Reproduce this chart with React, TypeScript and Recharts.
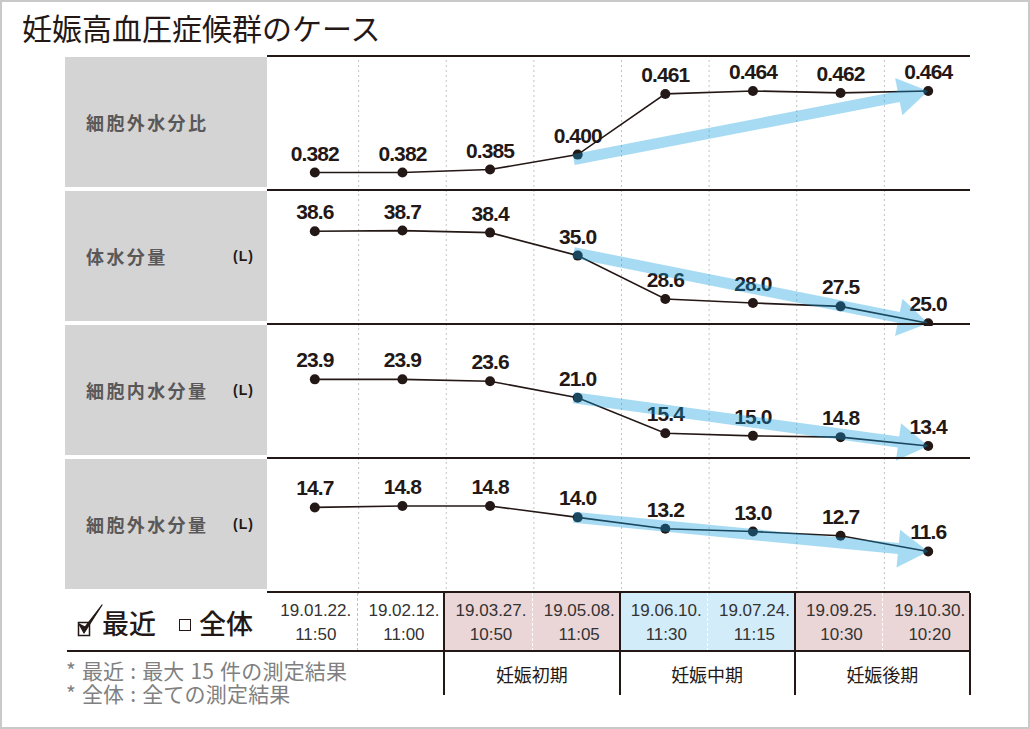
import React from 'react';
import { LineChart, Line, XAxis, YAxis, ReferenceLine, LabelList } from 'recharts';

const dates = ['19.01.22.', '19.02.12.', '19.03.27.', '19.05.08.', '19.06.10.', '19.07.24.', '19.09.25.', '19.10.30.'];
const times = ['11:50', '11:00', '10:50', '11:05', '11:30', '11:15', '10:30', '10:20'];
const phases = ['妊娠初期', '妊娠中期', '妊娠後期'];
const phaseOfDate = [-1, -1, 0, 0, 1, 1, 2, 2];

const ecwRatio = [0.382, 0.382, 0.385, 0.4, 0.461, 0.464, 0.462, 0.464];
const tbw = [38.6, 38.7, 38.4, 35.0, 28.6, 28.0, 27.5, 25.0];
const icw = [23.9, 23.9, 23.6, 21.0, 15.4, 15.0, 14.8, 13.4];
const ecw = [14.7, 14.8, 14.8, 14.0, 13.2, 13.0, 12.7, 11.6];

const notes = ['* 最近 : 最大 15 件の測定結果', '* 全体 : 全ての測定結果'];

// trend arrow runs from this measurement to the last one
const trendStart = 3;

const panels = [
  { title: '細胞外水分比', unit: '', values: ecwRatio, digits: 3, domain: [0.3624, 0.4971], startDy: 5 },
  { title: '体水分量', unit: '(L)', values: tbw, digits: 1, domain: [24.6, 44.4], startDy: -3 },
  { title: '細胞内水分量', unit: '(L)', values: icw, digits: 1, domain: [11.2, 32.3], startDy: 0 },
  { title: '細胞外水分量', unit: '(L)', values: ecw, digits: 1, domain: [8.6, 18.04], startDy: 0 },
];

const X0 = 269;
const W = 701;
const BAND = W / dates.length;
const TOP = 56;
const ROW = 134;
const M = 24;
const INK = '#231815';
const NUM_FONT = '"Liberation Sans", Arial, sans-serif';
const JP_FONT = '"Noto Sans CJK JP", "Noto Sans", sans-serif';
const phaseColors = ['#ead5d7', '#d3ecf9', '#ead5d7'];

const makeArrow = (startDy: number) => (props: any) => {
  const { x1, y1, x2, y2 } = props;
  const sx = x1 - 4;
  const sy = y1 + startDy;
  const dx = x2 - sx;
  const dy = y2 - sy;
  const len = Math.hypot(dx, dy) || 1;
  const ux = dx / len;
  const uy = dy / len;
  const nx = -uy;
  const ny = ux;
  const shaft = 5.5;
  const head = 19;
  const headLen = 30;
  const bx = x2 - ux * headLen;
  const by = y2 - uy * headLen;
  const pts = [
    [sx + nx * shaft, sy + ny * shaft],
    [bx + nx * shaft, by + ny * shaft],
    [bx + nx * head, by + ny * head],
    [x2, y2],
    [bx - nx * head, by - ny * head],
    [bx - nx * shaft, by - ny * shaft],
    [sx - nx * shaft, sy - ny * shaft],
  ];
  return <polygon points={pts.map((p) => p.join(',')).join(' ')} fill="#0a9ade" fillOpacity={0.36} />;
};

const boundaries = dates.slice(1).map((_, i) => i + 0.5);

const Panel = ({ p, k }: { p: (typeof panels)[number]; k: number }) => {
  const data = p.values.map((v, i) => ({ i, v }));
  const last = data.length - 1;
  return (
    <div style={{ position: 'absolute', left: X0, top: TOP + k * ROW - M }}>
      <LineChart width={W} height={ROW + 2 * M} data={data} margin={{ top: M, right: 0, bottom: M, left: 0 }}>
        <XAxis hide type="number" dataKey="i" domain={[-0.5, dates.length - 0.5]} />
        <YAxis hide type="number" domain={p.domain} allowDataOverflow />
        {boundaries.map((b) => (
          <ReferenceLine key={b} x={b} stroke="#c2c2c2" strokeDasharray="2 3" strokeWidth={1} />
        ))}
        <Line
          dataKey="v"
          stroke={INK}
          strokeWidth={1.6}
          dot={{ r: 5, fill: INK, stroke: 'none' }}
          isAnimationActive={false}
        >
          <LabelList
            dataKey="v"
            position="top"
            offset={12}
            formatter={(v: any) => Number(v).toFixed(p.digits)}
            fill={INK}
            fontSize={21}
            fontWeight={700}
            fontFamily={NUM_FONT}
            letterSpacing={-0.9}
          />
        </Line>
        <ReferenceLine
          segment={[
            { x: trendStart, y: p.values[trendStart] },
            { x: last, y: p.values[last] },
          ]}
          zIndex={3000}
          shape={makeArrow(p.startDy)}
        />
      </LineChart>
    </div>
  );
};

const hLine = (y: number, x1: number, x2: number, key: string) => (
  <div key={key} style={{ position: 'absolute', left: x1, top: y - 1, width: x2 - x1, height: 2, background: INK }} />
);

export default function App() {
  return (
    <div
      style={{
        position: 'absolute',
        left: 0,
        top: 0,
        width: 1030,
        height: 729,
        boxSizing: 'border-box',
        border: '2px solid #c9c9c9',
        background: '#fff',
        fontFamily: JP_FONT,
        overflow: 'hidden',
      }}
    >
      <div style={{ position: 'absolute', left: 20, top: 5, fontSize: 30, lineHeight: '40px', color: INK }}>
        妊娠高血圧症候群のケース
      </div>

      {panels.map((p, k) => (
        <div
          key={p.title}
          style={{
            position: 'absolute',
            left: 63,
            top: TOP + k * ROW + 1 - 2,
            width: 202,
            height: ROW - 4,
            background: '#d4d4d4',
          }}
        >
          <div
            style={{
              position: 'absolute',
              left: 21,
              top: 0,
              height: ROW - 4,
              display: 'flex',
              alignItems: 'center',
              fontSize: 18,
              fontWeight: 700,
              letterSpacing: 2.4,
              color: '#5a5858',
            }}
          >
            {p.title}
          </div>
          {p.unit && (
            <div
              style={{
                position: 'absolute',
                left: 168,
                top: 0,
                height: ROW - 4,
                display: 'flex',
                alignItems: 'center',
                fontSize: 14,
                fontWeight: 700,
                letterSpacing: 1,
                fontFamily: NUM_FONT,
                color: INK,
              }}
            >
              {p.unit}
            </div>
          )}
        </div>
      ))}

      {/* date row */}
      {dates.map((d, i) => {
        const ph = phaseOfDate[i];
        const dashed = i % 2 === 1;
        return (
          <div
            key={d}
            style={{
              position: 'absolute',
              left: X0 - 2 + i * BAND,
              top: 591,
              width: BAND,
              height: 58,
              background: ph >= 0 ? phaseColors[ph] : '#fff',
              borderLeft: dashed ? `1px dashed ${ph >= 0 ? '#fff' : '#c2c2c2'}` : 'none',
              boxSizing: 'border-box',
              fontFamily: NUM_FONT,
              fontSize: 17,
              lineHeight: '24px',
              color: '#333',
              textAlign: 'center',
              paddingTop: 6,
              paddingLeft: 6,
            }}
          >
            <div>{d}</div>
            <div>{times[i]}</div>
          </div>
        );
      })}

      {phases.map((ph, j) => (
        <div
          key={ph}
          style={{
            position: 'absolute',
            left: X0 - 2 + (2 + 2 * j) * BAND,
            top: 651,
            width: 2 * BAND,
            height: 42,
            display: 'flex',
            alignItems: 'center',
            justifyContent: 'center',
            fontSize: 18,
            color: INK,
          }}
        >
          {ph}
        </div>
      ))}

      {[2, 4, 6, 8].map((c) => (
        <div
          key={c}
          style={{ position: 'absolute', left: X0 - 2 + c * BAND - 1, top: 591, width: 2, height: 102, background: INK }}
        />
      ))}

      {panels.map((p, k) => (
        <Panel key={p.title} p={p} k={k} />
      ))}

      {[0, 1, 2, 3, 4].map((k) => hLine(TOP + k * ROW - 2, 265, 968, 'h' + k))}
      {hLine(649, 65, 968, 'hb')}

      {/* 最近 / 全体 selector */}
      <svg style={{ position: 'absolute', left: 72, top: 598 }} width={34} height={40}>
        <rect x={4.5} y={22.5} width={11} height={13} fill="none" stroke={INK} strokeWidth={1.5} />
        <path d="M5 24 L10 33 L28 5 L11 27 Z" fill={INK} stroke={INK} strokeWidth={1.2} strokeLinejoin="round" />
      </svg>
      <div style={{ position: 'absolute', left: 100, top: 603, fontSize: 27, lineHeight: '36px', fontWeight: 500, color: INK }}>
        最近
      </div>
      <div
        style={{ position: 'absolute', left: 177, top: 617, width: 10, height: 10, border: `1.5px solid ${INK}` }}
      />
      <div style={{ position: 'absolute', left: 197, top: 603, fontSize: 27, lineHeight: '36px', fontWeight: 500, color: INK }}>
        全体
      </div>

      {notes.map((n, i) => (
        <div
          key={n}
          style={{
            position: 'absolute',
            left: 64,
            top: 657 + i * 23,
            height: 22,
            fontSize: 21,
            lineHeight: '22px',
            letterSpacing: 0.2,
            wordSpacing: 1,
            color: '#808080',
            whiteSpace: 'nowrap',
          }}
        >
          {n}
        </div>
      ))}
    </div>
  );
}
